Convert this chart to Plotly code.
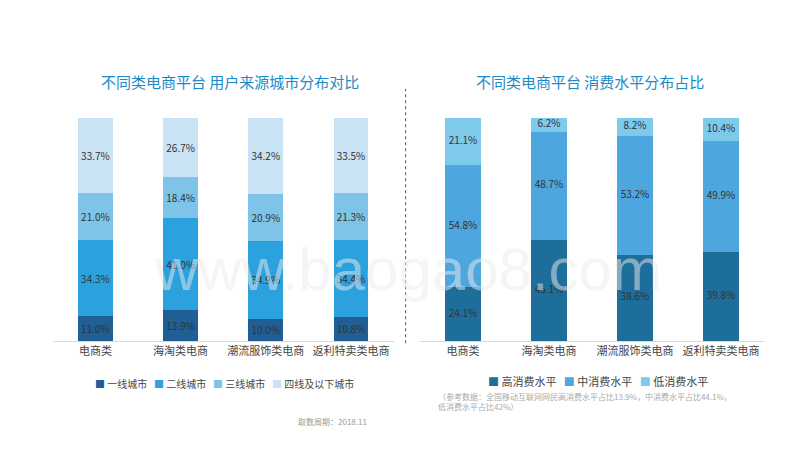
import plotly.graph_objects as go

cats = ["电商类", "海淘类电商", "潮流服饰类电商", "返利特卖类电商"]

city_names = ["一线城市", "二线城市", "三线城市", "四线及以下城市"]
city_vals = [
    [11.0, 13.9, 10.0, 10.8],
    [34.3, 41.0, 34.9, 34.4],
    [21.0, 18.4, 20.9, 21.3],
    [33.7, 26.7, 34.2, 33.5],
]
city_colors = ["#1f5f96", "#2ba2de", "#7ec4e8", "#c9e3f4"]

spend_names = ["高消费水平", "中消费水平", "低消费水平"]
spend_vals = [
    [24.1, 45.1, 38.6, 39.8],
    [54.8, 48.7, 53.2, 49.9],
    [21.1, 6.2, 8.2, 10.4],
]
spend_colors = ["#1d6e9b", "#4ea6de", "#7ecaea"]

fig = go.Figure()
font = "Noto Sans CJK SC"
lbl = dict(size=10, color="#333333")

for n, v, c in zip(city_names, city_vals, city_colors):
    fig.add_bar(x=cats, y=v, name=n, marker_color=c, marker_line_width=0,
                text=[f"{x:.1f}%" for x in v], textposition="inside", textangle=0,
                insidetextanchor="middle", constraintext="none", textfont=lbl,
                xaxis="x", yaxis="y", showlegend=False)

# right chart: labels drawn as a text layer at each segment's middle
base = [0.0] * len(cats)
for n, v, c in zip(spend_names, spend_vals, spend_colors):
    fig.add_bar(x=cats, y=v, name=n, marker_color=c, marker_line_width=0,
                xaxis="x2", yaxis="y2", showlegend=False)
    mids = [b + x / 2 for b, x in zip(base, v)]
    fig.add_scatter(x=cats, y=mids, mode="text", text=[f"{x:.1f}%" for x in v],
                    textfont=lbl, xaxis="x2", yaxis="y2", showlegend=False,
                    hoverinfo="skip", cliponaxis=False)
    base = [b + x for b, x in zip(base, v)]

ax = dict(showgrid=False, showline=True, linecolor="#d9d9d9", linewidth=1, ticks="",
          tickangle=0, tickfont=dict(size=11, color="#444444", family=font))
ay = dict(range=[0, 100], visible=False, domain=[0.26, 0.756])

# legend built as text: coloured squares + labels
def legend_text(names, colors):
    return "   ".join(f"<span style='color:{c}'>■</span> {n}" for n, c in zip(names, colors))

fig.update_layout(
    width=800, height=450, margin=dict(l=0, r=0, t=0, b=0),
    paper_bgcolor="white", plot_bgcolor="white",
    barmode="stack", bargap=0.59, showlegend=False,
    font=dict(family=font),
    xaxis=dict(ax, domain=[0.056, 0.482]),
    yaxis=dict(ay),
    xaxis2=dict(ax, domain=[0.515, 0.945], anchor="y2"),
    yaxis2=dict(ay, anchor="x2"),
    annotations=[
        dict(text="不同类电商平台 用户来源城市分布对比", x=0.277, y=0.865, xref="paper", yref="paper",
             xanchor="center", showarrow=False, font=dict(size=15, color="#1c8ac8")),
        dict(text="不同类电商平台 消费水平分布占比", x=0.727, y=0.865, xref="paper", yref="paper",
             xanchor="center", showarrow=False, font=dict(size=15, color="#1c8ac8")),
        dict(text=legend_text(city_names, city_colors), x=0.27, y=0.165, xref="paper", yref="paper",
             xanchor="center", yanchor="middle", showarrow=False,
             font=dict(size=10, color="#444444")),
        dict(text=legend_text(spend_names, spend_colors), x=0.737, y=0.172, xref="paper", yref="paper",
             xanchor="center", yanchor="middle", showarrow=False,
             font=dict(size=11, color="#444444")),
        dict(text="（参考数据：全国移动互联网网民高消费水平占比13.9%，中消费水平占比44.1%，<br>低消费水平占比42%）",
             x=0.535, y=0.125, xref="paper", yref="paper", xanchor="left", yanchor="middle",
             align="left", showarrow=False, font=dict(size=8, color="#aaaaaa")),
        dict(text="取数周期：2018.11", x=0.405, y=0.065, xref="paper", yref="paper",
             xanchor="center", showarrow=False, font=dict(size=8, color="#999999")),
        dict(text="www.baogao8.com", x=0.5, y=0.42, xref="paper", yref="paper",
             showarrow=False, font=dict(size=60, color="rgba(235,235,235,0.5)", family="Arial")),
    ],
    shapes=[dict(type="line", xref="paper", yref="paper", x0=0.497, x1=0.497, y0=0.255, y1=0.82,
                 line=dict(color="#555555", width=1, dash="dot"))],
)
fig.write_html("out.html")
